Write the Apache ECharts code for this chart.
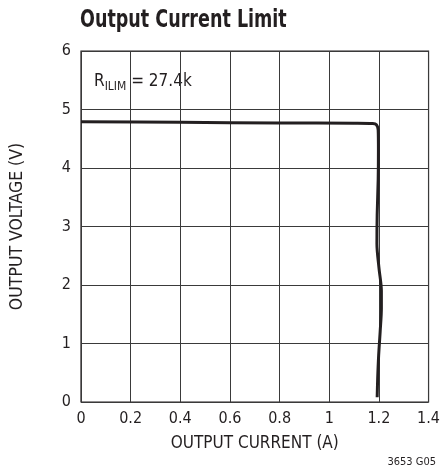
<!DOCTYPE html>
<html><head><meta charset="utf-8">
<script src="https://cdn.jsdelivr.net/npm/echarts@6/dist/echarts.min.js"></script>
<style>html,body{margin:0;padding:0;background:#fff}#c{width:443px;height:473px}</style>
</head><body><div id="c"></div>
<script>
const currentA = [0, 0.4, 0.8, 1.1, 1.175, 1.19, 1.197, 1.198, 1.197, 1.193, 1.192, 1.2, 1.21, 1.21, 1.205, 1.199, 1.195, 1.193];
const voltageV = [4.79, 4.78, 4.77, 4.765, 4.76, 4.74, 4.65, 4.3, 3.8, 3.2, 2.7, 2.3, 1.9, 1.6, 1.2, 0.8, 0.4, 0.08];
const xTicks = [0, 0.2, 0.4, 0.6, 0.8, 1, 1.2, 1.4];
const yTicks = [0, 1, 2, 3, 4, 5, 6];
const titleText = 'Output Current Limit';
const xName = 'OUTPUT CURRENT (A)';
const yName = 'OUTPUT VOLTAGE (V)';
const noteText = '3653 G05';

const font = '"Liberation Sans Narrow", "DejaVu Sans Condensed", Arial, sans-serif';
const chart = echarts.init(document.getElementById('c'));
chart.setOption({
  animation: false,
  backgroundColor: '#fff',
  grid: {left: 81, right: 10, top: 51, bottom: 71, containLabel: false,
    show: true, borderColor: '#231f20', borderWidth: 1.2},
  xAxis: {type: 'value', min: xTicks[0], max: xTicks[xTicks.length - 1], interval: 0.2,
    name: xName, nameLocation: 'middle', nameGap: 33,
    nameTextStyle: {fontFamily: font, fontSize: 17, color: '#231f20'},
    axisLine: {show: false}, axisTick: {show: false},
    axisLabel: {fontFamily: font, fontSize: 16, color: '#231f20', margin: 9,
      formatter: v => String(+v.toFixed(1))},
    splitLine: {lineStyle: {color: '#3a3a3a', width: 1}}},
  yAxis: {type: 'value', min: yTicks[0], max: yTicks[yTicks.length - 1], interval: 1,
    name: yName, nameLocation: 'middle', nameGap: 55,
    nameTextStyle: {fontFamily: font, fontSize: 17.5, color: '#231f20'},
    axisLine: {show: false}, axisTick: {show: false},
    axisLabel: {fontFamily: font, fontSize: 16, color: '#231f20', margin: 10},
    splitLine: {lineStyle: {color: '#3a3a3a', width: 1}}},
  graphic: [
    {type: 'text', x: 80, y: 8, scaleX: 0.78, style: {text: titleText,
      fontFamily: font, fontWeight: 'bold', fontSize: 25, fill: '#231f20'}},
    {type: 'text', left: 94, top: 73, style: {
      rich: {
        r: {fontFamily: font, fontSize: 17, fill: '#231f20'},
        s: {fontFamily: font, fontSize: 12, fill: '#231f20', padding: [10, 0, 0, 0]}
      },
      text: '{r|R}{s|ILIM}{r| = 27.4k}', fill: '#231f20'}},
    {type: 'text', right: 7, top: 457, style: {text: noteText,
      fontFamily: font, fontSize: 11, fill: '#231f20'}}
  ],
  series: [{type: 'line', data: currentA.map((x, i) => [x, voltageV[i]]),
    showSymbol: false, smooth: 0.3, lineStyle: {color: '#231f20', width: 3}}]
});
</script></body></html>
